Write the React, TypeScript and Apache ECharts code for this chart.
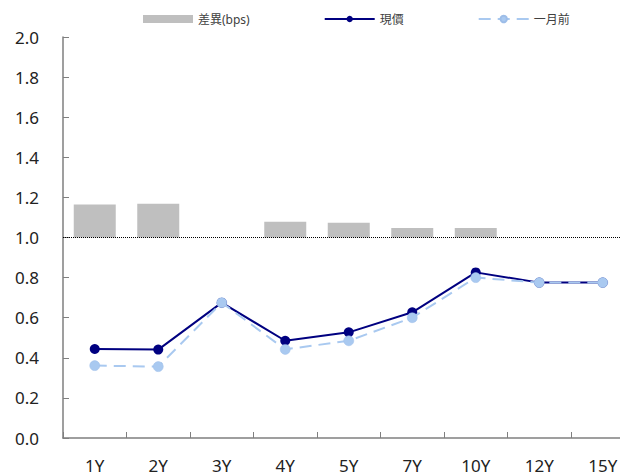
import React, { useEffect, useRef } from "react";
import * as echarts from "echarts";

const categories = ["1Y", "2Y", "3Y", "4Y", "5Y", "7Y", "10Y", "12Y", "15Y"];
const diffBps = [8.2, 8.4, 0, 3.9, 3.7, 2.4, 2.4, 0, 0];
const current = [0.444, 0.441, 0.675, 0.485, 0.527, 0.627, 0.826, 0.775, 0.775];
const monthAgo = [0.361, 0.356, 0.675, 0.442, 0.485, 0.6, 0.8, 0.775, 0.775];
const yTicks = { min: 0, max: 2, interval: 0.2 };

const FONT = "'Noto Sans', 'Noto Sans CJK TC', sans-serif";

export default function App() {
  const ref = useRef<HTMLDivElement>(null);
  useEffect(() => {
    document.body.style.margin = "0";
    const chart = echarts.init(ref.current!, undefined, { renderer: "svg" });
    chart.setOption({
      animation: false,
      backgroundColor: "#ffffff",
      textStyle: { fontFamily: FONT },
      legend: {
        top: 8,
        left: 138,
        itemWidth: 50,
        itemHeight: 8,
        itemGap: 74,
        textStyle: { fontSize: 12, color: "#404040", fontFamily: FONT },
        data: [
          { name: "差異(bps)", icon: "rect" },
          { name: "現價" },
          { name: "一月前" },
        ],
      },
      grid: { left: 63, right: -14.5, top: 37, bottom: 34, containLabel: false, outerBoundsMode: "none" },
      xAxis: {
        type: "category",
        data: categories,
        boundaryGap: true,
        axisLine: { lineStyle: { color: "#7f7f7f", width: 1.5 } },
        axisTick: { show: true, inside: true, length: 6, alignWithLabel: false, lineStyle: { color: "#7f7f7f" } },
        axisLabel: { fontSize: 17, color: "#222", margin: 19, fontFamily: FONT },
        splitLine: { show: false },
      },
      yAxis: [
        {
          type: "value",
          min: yTicks.min,
          max: yTicks.max,
          interval: yTicks.interval,
          axisLine: { show: true, lineStyle: { color: "#7f7f7f", width: 1.5 } },
          axisTick: { show: true, inside: true, length: 6, lineStyle: { color: "#7f7f7f" } },
          axisLabel: { fontSize: 17, color: "#222", margin: 24, fontFamily: FONT, formatter: (v: number) => v.toFixed(1) },
          splitLine: { show: false },
        },
        {
          type: "value",
          min: -50,
          max: 50,
          show: false,
          splitLine: { show: false },
        },
      ],
      series: [
        {
          name: "差異(bps)",
          type: "bar",
          yAxisIndex: 1,
          data: diffBps,
          barWidth: 42,
          itemStyle: { color: "#bfbfbf" },
          markLine: {
            silent: true,
            symbol: ["none", "none"],
            label: { show: false },
            lineStyle: { color: "#000000", type: "dotted", width: 1 },
            data: [{ yAxis: 0 }],
          },
        },
        {
          name: "現價",
          type: "line",
          data: current,
          symbol: "circle",
          symbolSize: 10,
          lineStyle: { color: "#000080", width: 2 },
          itemStyle: { color: "#000080" },
          z: 3,
        },
        {
          name: "一月前",
          type: "line",
          data: monthAgo,
          symbol: "circle",
          symbolSize: 10,
          lineStyle: { color: "#a9c9f0", width: 2, type: [12, 7] },
          itemStyle: { color: "#a9c9f0", borderColor: "#9dbde8", borderWidth: 0.5 },
          z: 4,
        },
      ],
    });
    return () => chart.dispose();
  }, []);
  return <div ref={ref} style={{ position: "fixed", left: 0, top: 0, width: 620, height: 472 }} />;
}
